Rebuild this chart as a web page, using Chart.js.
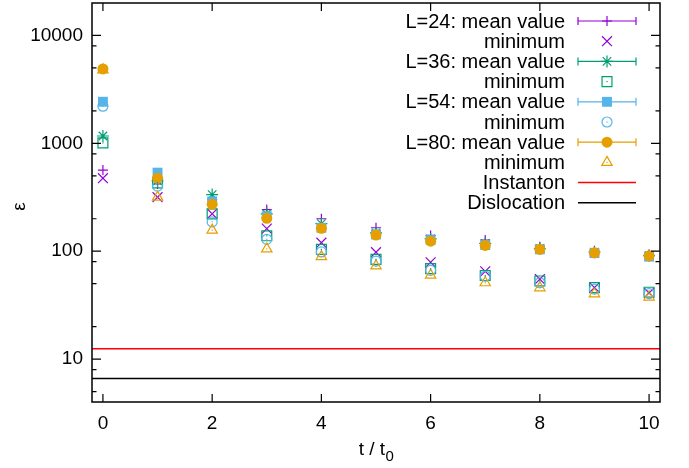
<!DOCTYPE html>
<html>
<head>
<meta charset="utf-8">
<script src="https://cdn.jsdelivr.net/npm/chart.js@4/dist/chart.umd.min.js"></script>
<style>
  html, body { margin: 0; padding: 0; background: #ffffff; }
  #c { display: block; }
</style>
</head>
<body>
<canvas id="c" width="689" height="468"></canvas>
<script>
// Flow time in units of t0
const tValues = [0, 1, 2, 3, 4, 5, 6, 7, 8, 9, 10];

// Energy density, mean and minimum per lattice size
const meanL24 = [565, 420, 300, 243, 200, 165, 140, 127, 110, 101, 93];
const minL24  = [475, 317, 222, 162, 120, 98, 79, 65, 55, 46, 41];
const meanL36 = [1170, 450, 335, 222, 180, 148, 130, 118, 106, 98, 91];
const minL36  = [1010, 430, 222, 139, 104, 84, 69, 59.5, 53, 46, 41.7];
const meanL54 = [2430, 535, 290, 211, 165, 143, 127, 114, 104, 96, 89];
const minL54  = [2210, 401, 187, 129, 98.5, 81, 66.5, 58.6, 51, 44.5, 40.5];
const meanL80 = [4900, 475, 272, 202, 163, 141, 124, 113, 104, 96.6, 90.6];
const minL80  = [4800, 317, 157, 105, 89, 73, 60, 51, 45.8, 40.3, 37.6];

// Reference levels
const instantonLevel = 12.45;
const dislocationLevel = 6.6;

// Axes
const xRange = [-0.2, 10.2];
const yRange = [4, 20000];
const xTicks = [0, 2, 4, 6, 8, 10];
const yTicks = [10, 100, 1000, 10000];
const yMinorFactors = [2, 5, 8];

// Plot box in canvas pixels
const BOX = { left: 92, top: 3, right: 660, bottom: 402 };

const FONT = '"Liberation Sans", Arial, Helvetica, sans-serif';
const FONT_SIZE = 19;
const KEY_FONT_SIZE = 20;

const series = [
  { label: 'L=24: mean value', values: meanL24, color: '#9400d3', style: 'cross',    radius: 5, fill: false, errorbar: true },
  { label: 'minimum',          values: minL24,  color: '#9400d3', style: 'crossRot', radius: 7, fill: false },
  { label: 'L=36: mean value', values: meanL36, color: '#009e73', style: 'star',     radius: 6, fill: false, errorbar: true },
  { label: 'minimum',          values: minL36,  color: '#009e73', style: 'rect',     radius: 7, fill: false, dot: true },
  { label: 'L=54: mean value', values: meanL54, color: '#56b4e9', style: 'rect',     radius: 7, fill: true,  errorbar: true },
  { label: 'minimum',          values: minL54,  color: '#56b4e9', style: 'circle',   radius: 5, fill: false, dot: true },
  { label: 'L=80: mean value', values: meanL80, color: '#e69f00', style: 'circle',   radius: 5.5, fill: true, errorbar: true },
  { label: 'minimum',          values: minL80,  color: '#e69f00', style: 'triangle', radius: 6, fill: false, dot: true }
];

const levels = [
  { label: 'Instanton',   value: instantonLevel,   color: '#ff0000' },
  { label: 'Dislocation', value: dislocationLevel, color: '#000000' }
];

const datasets = series.map((s, i) => ({
  label: s.label,
  data: tValues.map((t, k) => ({ x: t, y: s.values[k] })),
  showLine: false,
  pointStyle: s.style,
  pointRadius: s.radius,
  pointBorderColor: s.color,
  pointBackgroundColor: s.fill ? s.color : 'rgba(0,0,0,0)',
  pointBorderWidth: s.fill ? 0 : 1.2,
  order: -i,
  meta: s
}));

levels.forEach((l, j) => {
  datasets.push({
    label: l.label,
    data: [{ x: xRange[0], y: l.value }, { x: xRange[1], y: l.value }],
    showLine: true,
    borderColor: l.color,
    borderWidth: 1.5,
    pointRadius: 0,
    order: -20 - j,
    meta: { line: true, color: l.color, label: l.label }
  });
});

function markerOpts(s) {
  return { pointStyle: s.style, radius: s.radius, rotation: 0, borderWidth: s.fill ? 0 : 1.2 };
}

function drawMarker(ctx, s, x, y) {
  ctx.save();
  ctx.strokeStyle = s.color;
  ctx.fillStyle = s.fill ? s.color : 'rgba(0,0,0,0)';
  ctx.lineWidth = s.fill ? 0 : 1.2;
  Chart.helpers.drawPoint(ctx, markerOpts(s), x, y);
  if (s.dot) {
    ctx.fillStyle = s.color;
    ctx.fillRect(x - 0.6, y - 0.6, 1.2, 1.2);
  }
  ctx.restore();
}

// Pin the plot box to fixed pixel edges
const pinBox = {
  id: 'pinBox',
  afterLayout(chart) {
    const xs = chart.scales.x, ys = chart.scales.y;
    Object.assign(chart.chartArea, BOX, { width: BOX.right - BOX.left, height: BOX.bottom - BOX.top });
    ys.left = 0; ys.right = BOX.left; ys.width = BOX.left;
    ys.top = BOX.top; ys.bottom = BOX.bottom; ys.height = BOX.bottom - BOX.top;
    xs.left = BOX.left; xs.right = BOX.right; xs.width = BOX.right - BOX.left;
    xs.top = BOX.bottom; xs.bottom = chart.height; xs.height = chart.height - BOX.bottom;
    ys.configure();
    xs.configure();
  }
};

// Centre dots on the open markers
const centreDots = {
  id: 'centreDots',
  afterDatasetsDraw(chart) {
    const ctx = chart.ctx;
    chart.data.datasets.forEach((ds, i) => {
      if (!ds.meta || !ds.meta.dot) return;
      const meta = chart.getDatasetMeta(i);
      ctx.save();
      ctx.fillStyle = ds.meta.color;
      meta.data.forEach(p => ctx.fillRect(p.x - 0.6, p.y - 0.6, 1.2, 1.2));
      ctx.restore();
    });
  }
};

// Boxed frame with inward ticks, axis titles and key
const frame = {
  id: 'frame',
  afterDraw(chart) {
    const ctx = chart.ctx;
    const a = chart.chartArea;
    const xs = chart.scales.x, ys = chart.scales.y;
    ctx.save();
    ctx.strokeStyle = '#000';
    ctx.lineWidth = 1.5;
    ctx.strokeRect(a.left, a.top, a.right - a.left, a.bottom - a.top);

    ctx.lineWidth = 1.2;
    ctx.beginPath();
    xTicks.forEach(v => {
      const px = xs.getPixelForValue(v);
      ctx.moveTo(px, a.bottom); ctx.lineTo(px, a.bottom - 8);
      ctx.moveTo(px, a.top);    ctx.lineTo(px, a.top + 8);
    });
    yTicks.forEach(v => {
      const py = ys.getPixelForValue(v);
      ctx.moveTo(a.left, py);  ctx.lineTo(a.left + 9, py);
      ctx.moveTo(a.right, py); ctx.lineTo(a.right - 9, py);
    });
    for (let dec = 1; dec <= 10000; dec *= 10) {
      yMinorFactors.forEach(f => {
        const v = f * dec;
        if (v <= yRange[0] || v >= yRange[1]) return;
        const py = ys.getPixelForValue(v);
        ctx.moveTo(a.left, py);  ctx.lineTo(a.left + 4.5, py);
        ctx.moveTo(a.right, py); ctx.lineTo(a.right - 4.5, py);
      });
    }
    ctx.stroke();

    // axis titles
    ctx.fillStyle = '#000';
    ctx.font = FONT_SIZE + 'px ' + FONT;
    ctx.textBaseline = 'middle';
    ctx.textAlign = 'center';
    ctx.save();
    ctx.translate(20, (a.top + a.bottom) / 2 + 4);
    ctx.rotate(-Math.PI / 2);
    ctx.fillText('ε', 0, 0);
    ctx.restore();

    const main = 't / t', sub = '0';
    ctx.textBaseline = 'alphabetic';
    ctx.textAlign = 'left';
    const wMain = ctx.measureText(main).width;
    ctx.font = '15px ' + FONT;
    const wSub = ctx.measureText(sub).width;
    const cx = (a.left + a.right) / 2;
    const x0 = cx - (wMain + wSub) / 2;
    ctx.font = FONT_SIZE + 'px ' + FONT;
    ctx.fillText(main, x0, 455);
    ctx.font = '15px ' + FONT;
    ctx.fillText(sub, x0 + wMain + 0.5, 461);

    // key
    const textRight = 565, s0 = 578, s1 = 636, sm = 607;
    const rowY = i => 21 + 20.2 * i;
    ctx.font = KEY_FONT_SIZE + 'px ' + FONT;
    ctx.textAlign = 'right';
    ctx.textBaseline = 'middle';
    const entries = chart.data.datasets.map(d => d.meta);
    entries.forEach((m, i) => {
      const y = rowY(i);
      ctx.fillStyle = '#000';
      ctx.fillText(m.label, textRight, y + 1);
      if (m.line) {
        ctx.strokeStyle = m.color;
        ctx.lineWidth = 1.5;
        ctx.beginPath(); ctx.moveTo(s0, y); ctx.lineTo(s1, y); ctx.stroke();
        return;
      }
      if (m.errorbar) {
        ctx.strokeStyle = m.color;
        ctx.lineWidth = 1.2;
        ctx.beginPath();
        ctx.moveTo(s0, y); ctx.lineTo(s1, y);
        ctx.moveTo(s0, y - 4); ctx.lineTo(s0, y + 4);
        ctx.moveTo(s1, y - 4); ctx.lineTo(s1, y + 4);
        ctx.stroke();
      }
      drawMarker(ctx, m, sm, y);
    });
    ctx.restore();
  }
};

const noPad = s => { s.paddingTop = 0; s.paddingBottom = 0; s.paddingLeft = 0; s.paddingRight = 0; };

new Chart(document.getElementById('c'), {
  type: 'scatter',
  data: { datasets },
  options: {
    responsive: false,
    devicePixelRatio: 1,
    animation: false,
    layout: { padding: { left: 0, top: 3, right: 29, bottom: 0 } },
    plugins: { legend: { display: false }, tooltip: { enabled: false }, title: { display: false } },
    scales: {
      x: {
        type: 'linear',
        min: xRange[0], max: xRange[1],
        grid: { display: false, drawTicks: false },
        border: { display: false },
        afterBuildTicks: s => { s.ticks = xTicks.map(v => ({ value: v })); },
        afterFit: s => { s.height = 66; noPad(s); },
        ticks: {
          color: '#000', padding: 10, maxRotation: 0, autoSkip: false,
          font: { family: FONT, size: FONT_SIZE },
          callback: v => String(v)
        }
      },
      y: {
        type: 'logarithmic',
        min: yRange[0], max: yRange[1],
        grid: { display: false, drawTicks: false },
        border: { display: false },
        afterBuildTicks: s => { s.ticks = yTicks.map(v => ({ value: v })); },
        afterFit: s => { s.width = 92; noPad(s); },
        ticks: {
          color: '#000', padding: 9, autoSkip: false,
          font: { family: FONT, size: FONT_SIZE },
          callback: v => String(v)
        }
      }
    }
  },
  plugins: [pinBox, centreDots, frame]
});
</script>
</body>
</html>
